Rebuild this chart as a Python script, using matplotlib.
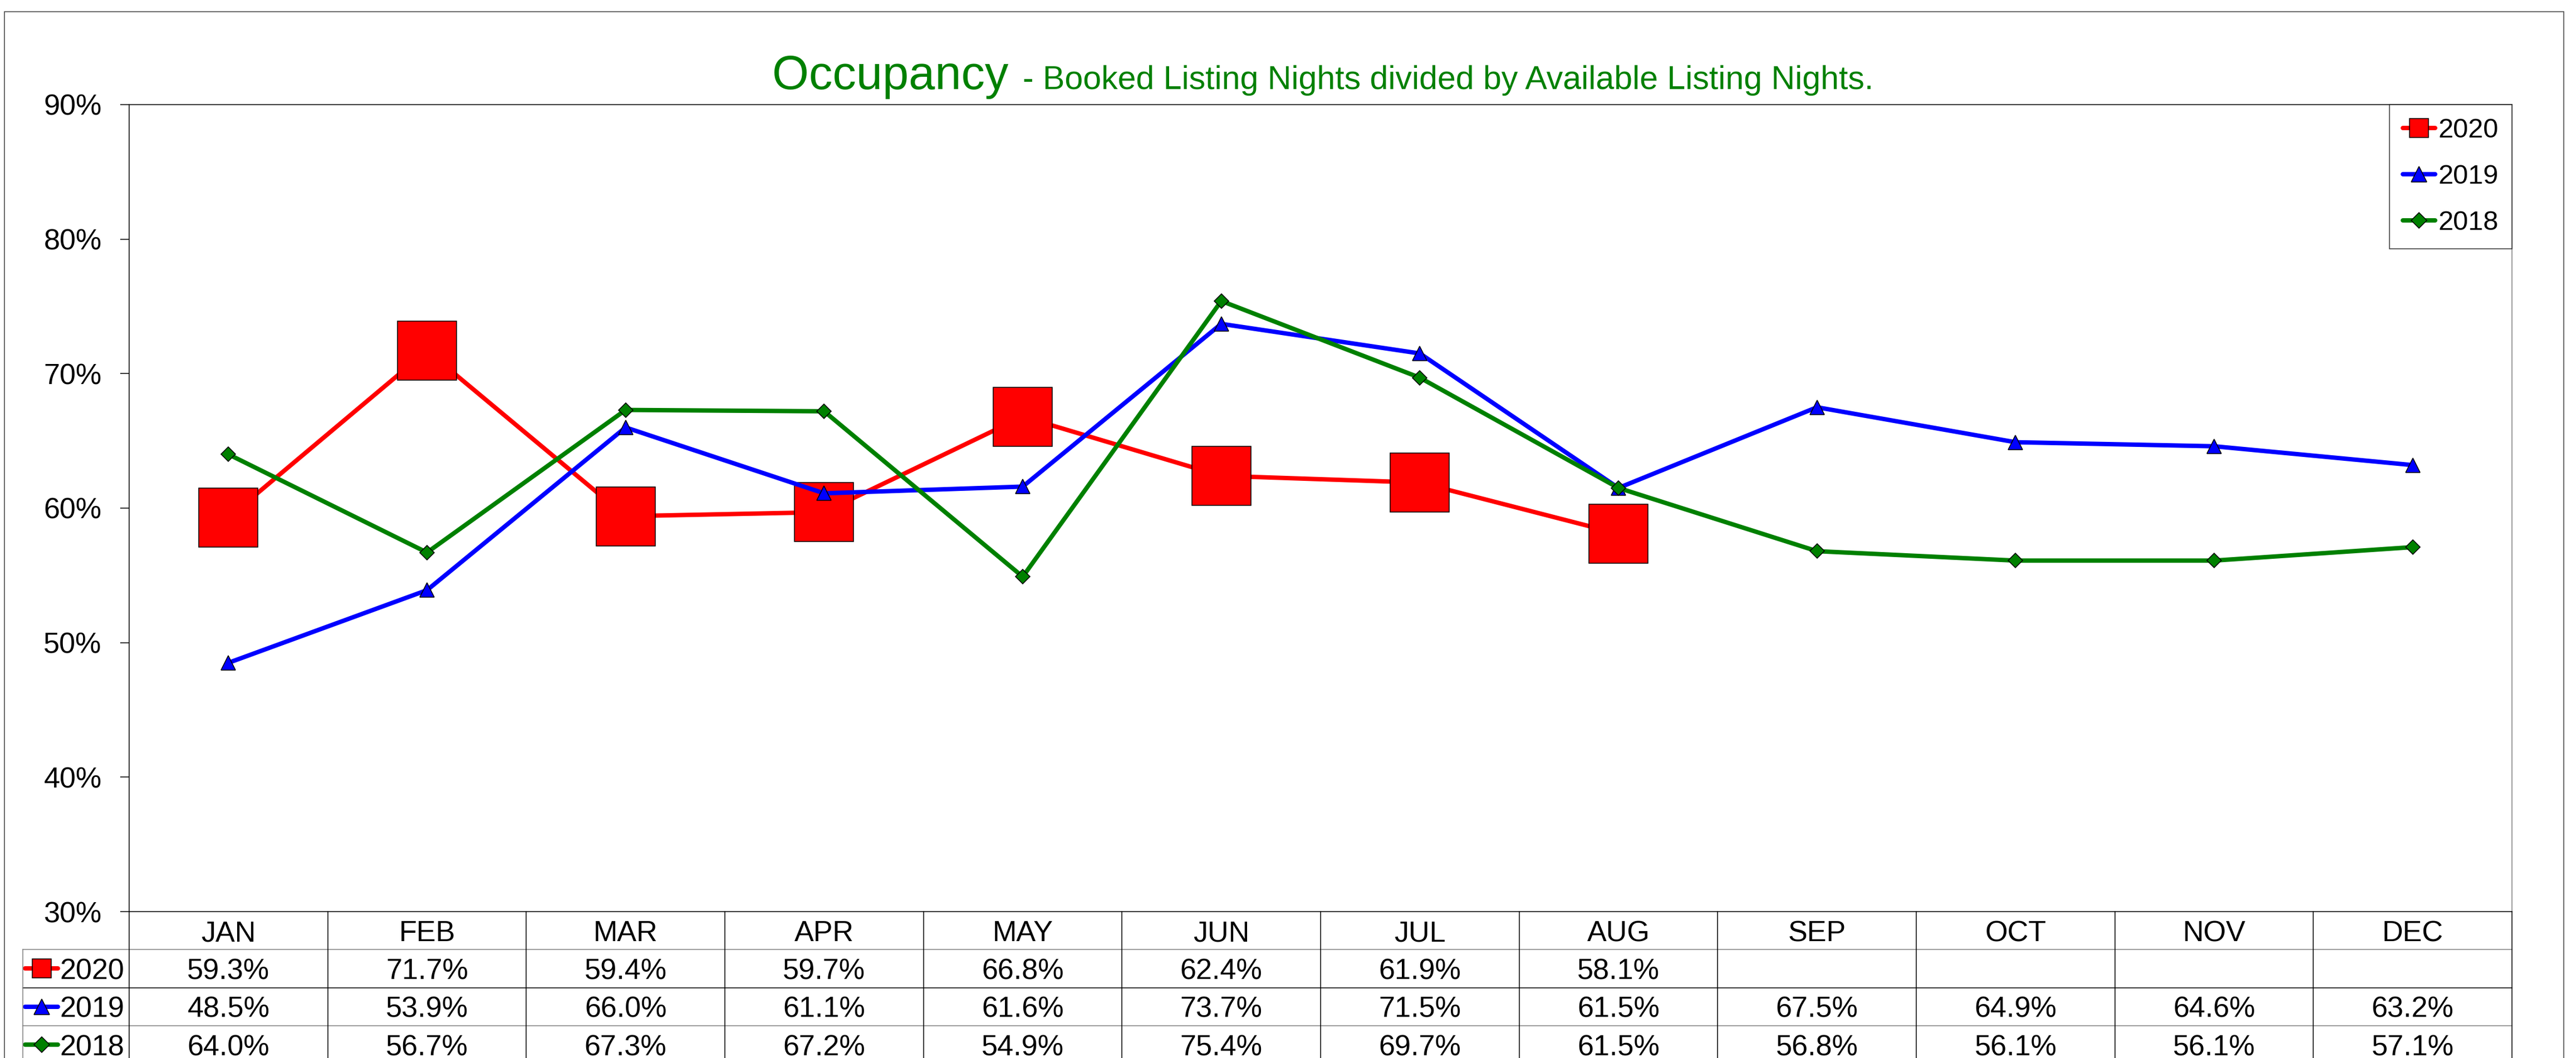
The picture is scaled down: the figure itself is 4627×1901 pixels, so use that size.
import matplotlib
matplotlib.use("Agg")
import matplotlib.pyplot as plt
import matplotlib.transforms as mtransforms
from matplotlib.lines import Line2D
from matplotlib.patches import Rectangle
from matplotlib.ticker import PercentFormatter
import numpy as np

plt.rcParams['font.family'] = ['Liberation Sans', 'DejaVu Sans']

# data (occupancy, %)
months = ['JAN', 'FEB', 'MAR', 'APR', 'MAY', 'JUN',
          'JUL', 'AUG', 'SEP', 'OCT', 'NOV', 'DEC']
occ_2020 = [59.3, 71.7, 59.4, 59.7, 66.8, 62.4, 61.9, 58.1,
            None, None, None, None]
occ_2019 = [48.5, 53.9, 66.0, 61.1, 61.6, 73.7, 71.5, 61.5,
            67.5, 64.9, 64.6, 63.2]
occ_2018 = [64.0, 56.7, 67.3, 67.2, 54.9, 75.4, 69.7, 61.5,
            56.8, 56.1, 56.1, 57.1]
yticks = [30, 40, 50, 60, 70, 80, 90]

W, H = 4627, 1901
PT = 100 / 72.0  # px per point at dpi 100


def fx(px):
    return px / W


def fy(py):
    return 1 - py / H


def to_frac(vals):
    return np.array([np.nan if v is None else v / 100 for v in vals])


series = [
    # label, values, colour, marker, size in plot, size in legends
    ('2020', occ_2020, '#FF0000', 's', 77, 24),
    ('2019', occ_2019, '#0000FF', '^', 19, 19.5),
    ('2018', occ_2018, '#008000', 'D', 13.3, 13.8),
]
LW = 5.7

fig = plt.figure(figsize=(W / 100, H / 100), dpi=100)
fig.patch.set_facecolor('white')

left, right, top, bottom = 232, 4512, 188, 1638
ax = fig.add_axes([fx(left), fy(bottom), fx(right) - fx(left), fy(top) - fy(bottom)])

x = np.arange(len(months))
for label, vals, col, mk, ms, _ in series:
    ax.plot(x, to_frac(vals), color=col, lw=LW, marker=mk, ms=ms,
            mfc=col, mec='black', mew=1.1, solid_joinstyle='round',
            solid_capstyle='round', label=label)

ax.set_xlim(-0.5, len(months) - 0.5)
ax.set_ylim(0.3, 0.9)
ax.set_yticks([t / 100 for t in yticks])
ax.yaxis.set_major_formatter(PercentFormatter(xmax=1, decimals=0))
ax.tick_params(axis='y', direction='out', length=16 / PT, width=1.1,
               pad=24, labelsize=37.5)
ax.tick_params(axis='x', bottom=False, labelbottom=False)
for s in ['left', 'top', 'bottom']:
    ax.spines[s].set_color('black')
    ax.spines[s].set_linewidth(1.1)
ax.spines['right'].set_color('#808080')
ax.spines['right'].set_linewidth(1.1)

# legend in top right corner
handles = [Line2D([], [], color=c, lw=LW, marker=m, ms=lms, mfc=c,
                  mec='black', mew=1.1, solid_capstyle='round')
           for _, _, c, m, _, lms in series]
leg = ax.legend(handles, [s[0] for s in series], loc='upper right',
                bbox_to_anchor=(1, 1), borderaxespad=0, fontsize=35,
                frameon=True, fancybox=False, edgecolor='black',
                handlelength=1.2, handletextpad=0.1, labelspacing=0.78,
                borderpad=0.5, numpoints=1)
leg.get_frame().set_linewidth(1.1)

# title
fig.text(fx(1387), fy(160), 'Occupancy', fontsize=61, color='#008000',
         ha='left', va='baseline')
fig.text(fx(1837), fy(160),
         '- Booked Listing Nights divided by Available Listing Nights.',
         fontsize=42.5, color='#008000', ha='left', va='baseline')

# data table below the plot
trans = mtransforms.blended_transform_factory(ax.transData, fig.transFigure)
rows = [1638, 1706, 1774.5, 1843, 1911]
row_col = ['#808080', 'black', '#808080']
for i, m in enumerate(months):
    ax.text(x[i], fy((rows[0] + rows[1]) / 2), m, transform=trans,
            ha='center', va='center_baseline', fontsize=37.5, clip_on=False)
for r, (label, vals, col, mk, _, lms) in enumerate(series):
    yc = fy((rows[r + 1] + rows[r + 2]) / 2)
    for i, v in enumerate(vals):
        if v is None:
            continue
        ax.text(x[i], yc, '{:.1f}%'.format(v), transform=trans,
                ha='center', va='center_baseline', fontsize=37.5,
                clip_on=False)
    # legend key in first column
    fig.add_artist(Line2D([fx(45), fx(74.5), fx(104)], [yc, yc, yc],
                          color=col, lw=LW, marker=mk, ms=lms, mfc=col,
                          mec='black', mew=1.1, markevery=[1],
                          solid_capstyle='round'))
    fig.text(fx(107), yc, label, fontsize=37.5, ha='left',
             va='center_baseline')
    # horizontal separators
    fig.add_artist(Line2D([fx(41), fx(right)], [fy(rows[r + 1])] * 2,
                          color=row_col[r], lw=1.1))

for k in range(len(months) + 1):
    fig.add_artist(Line2D([fx(left + k * (right - left) / len(months))] * 2,
                          [fy(bottom), 0], color='black', lw=1.1))
fig.add_artist(Line2D([fx(41)] * 2, [fy(rows[1]), 0], color='#808080', lw=1.1))

# outer chart border
fig.add_artist(Rectangle((fx(8), -0.01), fx(4605) - fx(8), fy(21) + 0.01,
                         transform=fig.transFigure, fill=False,
                         edgecolor='#404040', lw=1.1))

fig.savefig('out.png', dpi=100, facecolor=fig.get_facecolor())
